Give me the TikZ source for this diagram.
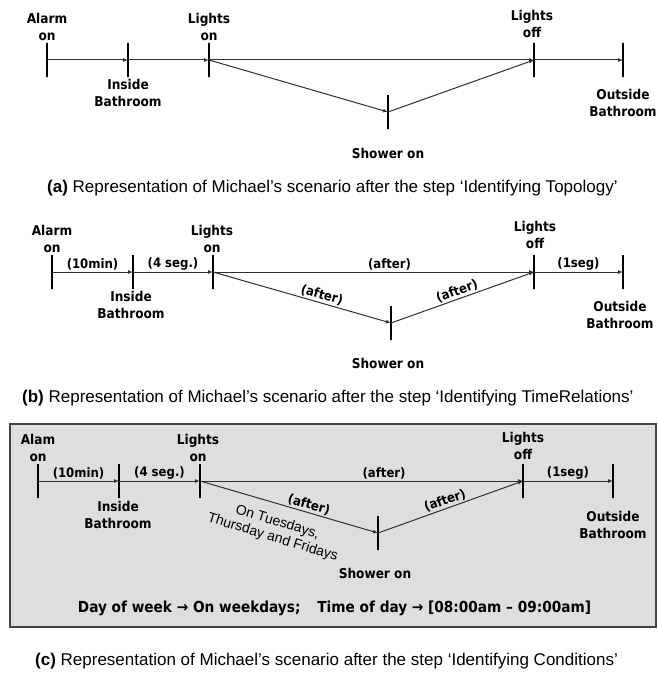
\documentclass[tikz,border=0pt]{standalone}
\usepackage{fontspec}
\setmainfont{Liberation Sans}
\newfontfamily\lblfont{DejaVu Sans Condensed}
\usetikzlibrary{arrows.meta}
\definecolor{linec}{HTML}{303030}
\definecolor{boxfill}{HTML}{DEDEDE}
\definecolor{boxdraw}{HTML}{454545}
\begin{document}
\begin{tikzpicture}[x=1pt,y=-1pt,
  tickmark/.style={draw=black,line width=1.8pt,rectangle,minimum width=0pt,minimum height=34pt,inner sep=0pt,outer sep=0pt},
  conn/.style={draw=linec,line width=1pt,-{Latex[length=5pt,width=4pt]}},
  lbl/.style={font=\lblfont\bfseries\fontsize{13.5}{17}\selectfont,align=center,inner sep=0pt},
  elbl/.style={font=\lblfont\bfseries\fontsize{13}{16}\selectfont,inner sep=1.5pt,above},
  ctxt/.style={font=\lblfont\bfseries\fontsize{15.2}{18}\selectfont,inner sep=0pt},
  captext/.style={font=\fontsize{17}{20}\selectfont,anchor=west,inner sep=0pt},
  cond/.style={font=\fontsize{14}{16}\selectfont,align=center,inner sep=0pt,rotate=-17},
  panelbox/.style={draw=boxdraw,fill=boxfill,line width=1.3pt}]
\useasboundingbox (0,0) rectangle (657,677);
\path[panelbox] (10,424) rectangle (656,627);
% ---------------- (a)
\node[tickmark] (a1) at (47,60) {};
\node[tickmark] (a2) at (128,60) {};
\node[tickmark] (a3) at (209,60) {};
\node[tickmark] (a4) at (388,112) {};
\node[tickmark] (a5) at (534,60) {};
\node[tickmark] (a6) at (623,60) {};
\draw[conn] (a1.center) -- (a2.center);
\draw[conn] (a2.center) -- (a3.center);
\draw[conn] (a3.center) -- (a5.center);
\draw[conn] (a3.center) -- (a4.center);
\draw[conn] (a4.center) -- (a5.center);
\draw[conn] (a5.center) -- (a6.center);
\node[lbl] (la1) at (47,27) {Alarm\\on};
\node[lbl] (la2) at (128,93) {Inside\\Bathroom};
\node[lbl] (la3) at (209,27) {Lights\\on};
\node[lbl] (la4) at (388,153) {Shower on};
\node[lbl] (la5) at (532,24) {Lights\\off};
\node[lbl] (la6) at (623,103) {Outside\\Bathroom};
\node[captext] (capa) at (47,188) {\textbf{(a)} Representation of Michael’s scenario after the step ‘Identifying Topology’};
% ---------------- (b)
\node[tickmark] (b1) at (52,272) {};
\node[tickmark] (b2) at (133,272) {};
\node[tickmark] (b3) at (213,272) {};
\node[tickmark] (b4) at (391,323) {};
\node[tickmark] (b5) at (534,272) {};
\node[tickmark] (b6) at (623,272) {};
\draw[conn] (b1.center) -- node[elbl] {(10min)} (b2.center);
\draw[conn] (b2.center) -- node[elbl] {(4 seg.)} (b3.center);
\draw[conn] (b3.center) -- node[elbl,pos=0.55] {(after)} (b5.center);
\draw[conn] (b3.center) -- node[elbl,sloped,pos=0.6] {(after)} (b4.center);
\draw[conn] (b4.center) -- node[elbl,sloped,pos=0.48] {(after)} (b5.center);
\draw[conn] (b5.center) -- node[elbl] {(1seg)} (b6.center);
\node[lbl] (lb1) at (52,238.5) {Alarm\\on};
\node[lbl] (lb2) at (131,305) {Inside\\Bathroom};
\node[lbl] (lb3) at (212,238.5) {Lights\\on};
\node[lbl] (lb4) at (388,363) {Shower on};
\node[lbl] (lb5) at (535,235) {Lights\\off};
\node[lbl] (lb6) at (620,315) {Outside\\Bathroom};
\node[captext] (capb) at (22,398) {\textbf{(b)} Representation of Michael’s scenario after the step ‘Identifying TimeRelations’};
% ---------------- (c)
\node[tickmark] (c1) at (38,481) {};
\node[tickmark] (c2) at (119,481) {};
\node[tickmark] (c3) at (200,481) {};
\node[tickmark] (c4) at (378,533) {};
\node[tickmark] (c5) at (523,481) {};
\node[tickmark] (c6) at (613,481) {};
\draw[conn] (c1.center) -- node[elbl] {(10min)} (c2.center);
\draw[conn] (c2.center) -- node[elbl] {(4 seg.)} (c3.center);
\draw[conn] (c3.center) -- node[elbl,pos=0.57] {(after)} (c5.center);
\draw[conn] (c3.center) -- node[elbl,sloped,pos=0.6] {(after)} (c4.center);
\draw[conn] (c4.center) -- node[elbl,sloped,pos=0.48] {(after)} (c5.center);
\draw[conn] (c5.center) -- node[elbl] {(1seg)} (c6.center);
\node[lbl] (lc1) at (38,448) {Alam\\on};
\node[lbl] (lc2) at (118,514.5) {Inside\\Bathroom};
\node[lbl] (lc3) at (198,448) {Lights\\on};
\node[lbl] (lc4) at (375,573) {Shower on};
\node[lbl] (lc5) at (523,445.5) {Lights\\off};
\node[lbl] (lc6) at (613,525) {Outside\\Bathroom};
\node[cond] (cnd) at (275,530) {On Tuesdays,\\Thursday and Fridays};
\node[ctxt] (ctx) at (334.5,608) {Day of week → On weekdays;\hspace{0.8em} Time of day → [08:00am – 09:00am]};
\node[captext] (capc) at (35,661) {\textbf{(c)} Representation of Michael’s scenario after the step ‘Identifying Conditions’};
\end{tikzpicture}
\end{document}
